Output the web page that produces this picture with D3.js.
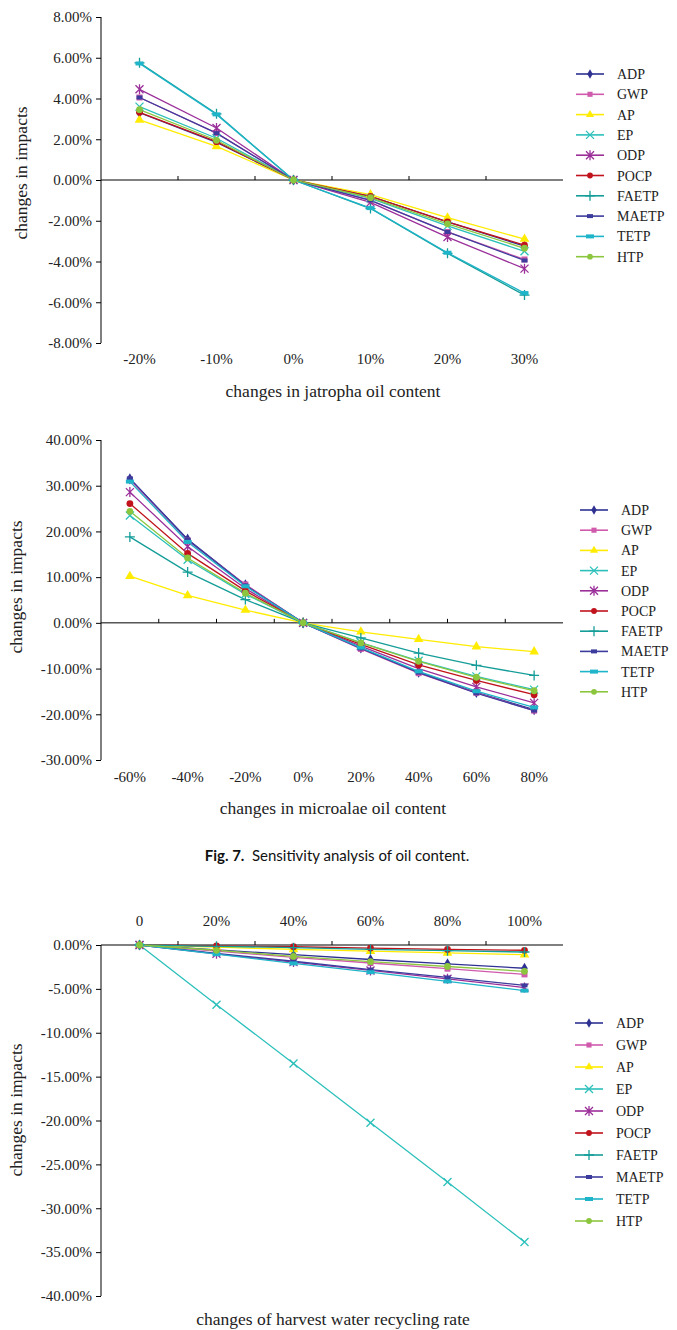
<!DOCTYPE html>
<meta charset="utf-8">
<style>
body { margin: 0; background: #fff; }
svg { font-family: "Liberation Serif", "Times New Roman", serif; }
.axis path, .axis line { stroke: #000; }
.axis text { font-family: "Liberation Serif", "Times New Roman", serif; font-size: 15px; fill: #222; }
.title { font-size: 17.5px; fill: #222; }
.legend text { font-size: 14px; fill: #222; }
.caption { font-family: Lato, "Open Sans", sans-serif; font-size: 15px; fill: #111; }
</style>
<svg width="677" height="1330"></svg>
<script src="https://cdn.jsdelivr.net/npm/d3@7"></script>
<script>
var impacts = ["ADP", "GWP", "AP", "EP", "ODP", "POCP", "FAETP", "MAETP", "TETP", "HTP"];
var colors = ["#2e3192", "#d05aac", "#ffec00", "#2cc0bb", "#9b2f9a", "#c0131b", "#149d98", "#3c3c9e", "#1eb4c9", "#8cc63f"];
var shapes = ["diamond", "square", "triangle", "x", "star", "circle", "plus", "dash", "bar", "circle"];

// jatropha oil content
var jatrophaCats = ["-20%", "-10%", "0%", "10%", "20%", "30%"];
var jatrophaValues = [
  [3.3, 1.85, 0, -0.8, -2.05, -3.25],
  [4.05, 2.3, 0, -1.0, -2.55, -3.9],
  [2.95, 1.65, 0, -0.72, -1.85, -2.9],
  [3.6, 2.05, 0, -0.9, -2.25, -3.5],
  [4.45, 2.55, 0, -1.1, -2.8, -4.35],
  [3.32, 1.88, 0, -0.8, -2.05, -3.2],
  [5.75, 3.25, 0, -1.4, -3.6, -5.65],
  [4.05, 2.3, 0, -1.0, -2.55, -3.95],
  [5.72, 3.22, 0, -1.38, -3.57, -5.55],
  [3.45, 1.95, 0, -0.87, -2.15, -3.35]
];
var jatrophaTicks = [8, 6, 4, 2, 0, -2, -4, -6, -8];

// microalgae oil content
var algaeCats = ["-60%", "-40%", "-20%", "0%", "20%", "40%", "60%", "80%"];
var algaeValues = [
  [31.5, 18.3, 8.3, 0, -5.5, -10.8, -15.2, -19.0],
  [31.3, 18.0, 8.4, 0, -5.7, -11.0, -15.3, -19.2],
  [10.2, 6.0, 2.8, 0, -1.95, -3.6, -5.2, -6.3],
  [23.5, 13.8, 6.3, 0, -4.3, -8.3, -11.7, -14.6],
  [28.6, 16.7, 7.5, 0, -5.1, -10.0, -14.0, -17.5],
  [26.1, 15.2, 7.0, 0, -4.7, -9.2, -12.6, -15.7],
  [18.8, 11.1, 5.1, 0, -3.3, -6.6, -9.3, -11.5],
  [31.6, 18.2, 8.2, 0, -5.6, -10.9, -15.4, -19.2],
  [30.9, 17.7, 8.0, 0, -5.4, -10.6, -14.95, -18.5],
  [24.4, 14.2, 6.5, 0, -4.4, -8.4, -11.9, -14.85]
];
var algaeTicks = [40, 30, 20, 10, 0, -10, -20, -30];

// harvest water recycling rate
var recycleCats = ["0", "20%", "40%", "60%", "80%", "100%"];
var recycleValues = [
  [0, -0.55, -1.1, -1.65, -2.15, -2.65],
  [0, -0.7, -1.4, -2.05, -2.7, -3.35],
  [0, -0.25, -0.5, -0.7, -0.9, -1.1],
  [0, -6.8, -13.5, -20.25, -27.0, -33.85],
  [0, -1.0, -1.95, -2.9, -3.85, -4.85],
  [0, -0.1, -0.2, -0.35, -0.5, -0.6],
  [0, -0.15, -0.3, -0.5, -0.65, -0.8],
  [0, -0.95, -1.85, -2.8, -3.7, -4.6],
  [0, -1.05, -2.1, -3.1, -4.15, -5.2],
  [0, -0.6, -1.3, -1.9, -2.45, -3.0]
];
var recycleTicks = [0, -5, -10, -15, -20, -25, -30, -35, -40];

var svg = d3.select("svg");

function marker(sel, shape, color, s) {
  s = s || 1;
  var sym = {
    diamond: d3.symbolDiamond, square: d3.symbolSquare, triangle: d3.symbolTriangle,
    circle: d3.symbolCircle
  };
  if (sym[shape]) {
    var size = shape == "diamond" ? 36 : shape == "triangle" ? 40 : 36;
    sel.append("path").attr("d", d3.symbol(sym[shape], size * s * s)).attr("fill", color);
  } else if (shape == "x") {
    sel.append("path").attr("d", "M-4,-4L4,4M-4,4L4,-4").attr("stroke", color).attr("stroke-width", 1.3).attr("fill", "none");
  } else if (shape == "star") {
    sel.append("path").attr("d", "M-4,-4L4,4M-4,4L4,-4M0,-5L0,5").attr("stroke", color).attr("stroke-width", 1.3).attr("fill", "none");
  } else if (shape == "plus") {
    sel.append("path").attr("d", "M-5,0L5,0M0,-5L0,5").attr("stroke", color).attr("stroke-width", 1.3).attr("fill", "none");
  } else if (shape == "dash") {
    sel.append("rect").attr("x", -3).attr("y", -2).attr("width", 6).attr("height", 4).attr("fill", color);
  } else if (shape == "bar") {
    sel.append("rect").attr("x", -4).attr("y", -2).attr("width", 8).attr("height", 4).attr("fill", color);
  }
}

function drawChart(o) {
  var g = svg.append("g");
  var x = d3.scaleBand().domain(o.cats).range([101, 563]);
  var y = d3.scaleLinear().domain(d3.extent(o.ticks)).range(o.yRange);
  var cx = function(c) { return x(c) + x.bandwidth() / 2; };

  // y axis
  g.append("g")
      .attr("class", "axis")
      .attr("transform", "translate(101,0)")
      .call(d3.axisLeft(y).tickValues(o.ticks).tickSize(5).tickPadding(4)
        .tickFormat(function(d) { return d.toFixed(2) + "%"; }))
      .attr("font-family", "Liberation Serif, Times New Roman, serif")
      .attr("font-size", 15)
      .call(function(a) { a.select(".domain").attr("d", "M0," + o.yRange[0] + "V" + o.yRange[1]); });

  // x axis line at zero with ticks at category boundaries
  var y0 = y(0);
  g.append("line").attr("x1", 101).attr("x2", 563).attr("y1", y0).attr("y2", y0).attr("stroke", "#000");
  g.selectAll(".xtick").data(o.cats.slice(1)).enter().append("line")
      .attr("x1", function(d) { return x(d); }).attr("x2", function(d) { return x(d); })
      .attr("y1", y0).attr("y2", y0 - 4).attr("stroke", "#000");
  g.selectAll(".xlab").data(o.cats).enter().append("text")
      .attr("x", cx).attr("y", o.labelY)
      .attr("text-anchor", "middle")
      .style("font-size", "15px").style("fill", "#222")
      .text(function(d) { return d; });

  // series
  var line = d3.line().x(function(d, i) { return cx(o.cats[i]); }).y(function(d) { return y(d); });
  o.values.forEach(function(vals, k) {
    g.append("path").datum(vals)
        .attr("d", line).attr("fill", "none")
        .attr("stroke", colors[k]).attr("stroke-width", 1.3);
  });
  o.values.forEach(function(vals, k) {
    vals.forEach(function(v, i) {
      var m = g.append("g").attr("transform", "translate(" + cx(o.cats[i]) + "," + y(v) + ")");
      marker(m, shapes[k], colors[k]);
    });
  });

  // titles
  g.append("text").attr("class", "title")
      .attr("x", 333).attr("y", o.titleY).attr("text-anchor", "middle")
      .text(o.xTitle);
  g.append("text").attr("class", "title")
      .attr("transform", "translate(" + o.yTitleX + "," + o.yTitleY + ") rotate(-90)")
      .attr("text-anchor", "middle")
      .text("changes in impacts");

  // legend
  var lg = g.append("g").attr("class", "legend");
  impacts.forEach(function(name, k) {
    var ly = o.legY + k * o.legStep;
    lg.append("line").attr("x1", o.legX).attr("x2", o.legX + 28)
        .attr("y1", ly).attr("y2", ly).attr("stroke", colors[k]).attr("stroke-width", 1.6);
    marker(lg.append("g").attr("transform", "translate(" + (o.legX + 14) + "," + ly + ")"), shapes[k], colors[k], 0.85);
    lg.append("text").attr("x", o.legX + 41).attr("y", ly + 5).text(name);
  });
}

drawChart({
  cats: jatrophaCats, values: jatrophaValues, ticks: jatrophaTicks,
  yRange: [343, 17], labelY: 364, titleY: 397, xTitle: "changes in jatropha oil content",
  yTitleX: 27, yTitleY: 173, legX: 576, legY: 74, legStep: 20.3
});

drawChart({
  cats: algaeCats, values: algaeValues, ticks: algaeTicks,
  yRange: [760, 440], labelY: 782, titleY: 814, xTitle: "changes in microalae oil content",
  yTitleX: 22, yTitleY: 587, legX: 580, legY: 510, legStep: 20.2
});

drawChart({
  cats: recycleCats, values: recycleValues, ticks: recycleTicks,
  yRange: [1296, 945], labelY: 926, titleY: 1325, xTitle: "changes of harvest water recycling rate",
  yTitleX: 22, yTitleY: 1110, legX: 575, legY: 1023, legStep: 22
});

var cap = svg.append("text").attr("class", "caption")
    .attr("x", 337).attr("y", 861).attr("text-anchor", "middle");
cap.append("tspan").attr("font-weight", "bold").text("Fig. 7.");
cap.append("tspan").text("\u2002Sensitivity analysis of oil content.");
</script>
